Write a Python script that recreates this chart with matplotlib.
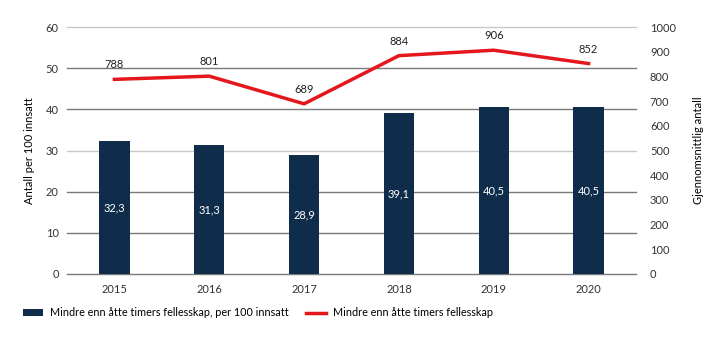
import matplotlib.pyplot as plt
import numpy as np

years = ['2015', '2016', '2017', '2018', '2019', '2020']
per_100 = [32.3, 31.3, 28.9, 39.1, 40.5, 40.5]
average = [788, 801, 689, 884, 906, 852]

bar_label = 'Mindre enn åtte timers fellesskap, per 100 innsatt'
line_label = 'Mindre enn åtte timers fellesskap'

plt.rcParams['font.family'] = ['Lato', 'DejaVu Sans']
plt.rcParams['font.size'] = 8

fig = plt.figure(figsize=(7.19, 3.41), dpi=100)
ax = fig.add_axes([67 / 719, 1 - 274 / 341, (636 - 67) / 719, 247 / 341])
ax2 = ax.twinx()

x = np.arange(len(years))
navy = '#0f2d4a'
red = '#e4181c'

# gridlines on left axis
ax.set_ylim(0, 60)
ax.set_yticks(range(0, 61, 10))
for v in range(0, 61, 10):
    c = '#c8c8c8' if v in (30, 60) else '#7a7a7a'
    ax.axhline(v, color=c, lw=1, zorder=1, clip_on=False)

bars = ax.bar(x, per_100, width=0.32, color=navy, zorder=2, label=bar_label)
for xi, v in zip(x, per_100):
    ax.text(xi, v / 2, f'{v:.1f}'.replace('.', ','), ha='center', va='center',
            color='white', fontsize=8, zorder=3)

ax.set_xlim(-0.5, 5.5)
ax.set_xticks(x)
ax.set_xticklabels(years)
ax.set_ylabel('Antall per 100 innsatt', fontsize=8, labelpad=8)

ax2.set_ylim(0, 1000)
ax2.set_yticks(range(0, 1001, 100))
ln, = ax2.plot(x, average, color=red, lw=2.5, zorder=4, label=line_label)
for xi, v in zip(x, average):
    ax2.annotate(str(v), (xi, v), xytext=(0, 6.5), textcoords='offset points',
                 ha='center', va='bottom', fontsize=8, color='#222222')
ax2.set_ylabel('Gjennomsnittlig antall', fontsize=8, labelpad=12)

for a in (ax, ax2):
    for s in a.spines.values():
        s.set_visible(False)
    a.tick_params(length=0, colors='#333333', labelsize=8)
ax.tick_params(axis='y', pad=6)
ax2.tick_params(axis='y', pad=10)
ax.tick_params(axis='x', pad=7)

fig.legend([bars, ln], [bar_label, line_label], loc='lower left',
           bbox_to_anchor=(13 / 719, 13 / 341), ncol=2, frameon=False,
           columnspacing=1.6, handlelength=1.9, handleheight=0.6,
           handletextpad=0.6, fontsize=7.8)

fig.savefig('out.png', dpi=100)
